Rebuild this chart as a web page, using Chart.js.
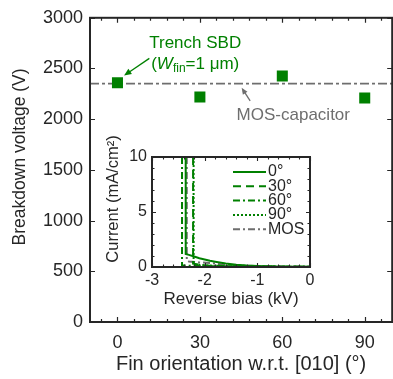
<!DOCTYPE html>
<html>
<head>
<meta charset="utf-8">
<script src="https://cdn.jsdelivr.net/npm/chart.js@4"></script>
<style>
html, body { margin:0; padding:0; background:#fff; overflow:hidden; }
#wrap { position:relative; width:393px; height:379px; overflow:hidden; }
#main { position:absolute; left:0; top:0; }
#inset { position:absolute; left:95px; top:125px; }
</style>
</head>
<body>
<div id="wrap">
  <canvas id="main" width="400" height="379"></canvas>
  <canvas id="inset" width="225" height="185"></canvas>
</div>
<script>
// main panel data
const orientations = [0, 30, 60, 90];
const breakdownVoltage = [2360, 2220, 2425, 2210];
const mosVoltage = 2350;
const xTickLabels = [0, 30, 60, 90];

// inset: reverse I-V curves (bias in kV, current in mA/cm2)
const bias0   = [-2.36, -2.36, -2.3, -2.2, -2.1, -2.0, -1.9, -1.8, -1.6, -1.4, -1.2, -1.0, -0.7, -0.4, 0];
const cur0    = [10, 1.18, 1.1, 0.95, 0.8, 0.68, 0.57, 0.48, 0.32, 0.21, 0.13, 0.08, 0.05, 0.03, 0.02];
const bias30  = [-2.22, -2.22, -2.1, -1.9, -1.6, -1.2, -0.6, 0];
const cur30   = [10, 0.3, 0.2, 0.12, 0.08, 0.05, 0.03, 0.02];
const bias60  = [-2.43, -2.43, -2.2, -1.8, -1.2, -0.6, 0];
const cur60   = [10, 0.15, 0.1, 0.07, 0.04, 0.03, 0.02];
const bias90  = [-2.21, -2.21, -2.0, -1.6, -1.0, 0];
const cur90   = [10, 0.25, 0.15, 0.08, 0.04, 0.02];
const biasMOS = [-2.34, -2.34, -2.3, -2.1, -1.9, -1.7, -1.4, -1.0, 0];
const curMOS  = [10, 0.6, 0.5, 0.42, 0.36, 0.26, 0.15, 0.08, 0.03];
const insetLabels = ['0°', '30°', '60°', '90°', 'MOS'];

const GREEN = '#008000';
const GRAY = '#6e6e6e';
const INK = '#262626';
const FONT = '"Liberation Sans", Arial, Helvetica, sans-serif';

Chart.defaults.font.family = FONT;
Chart.defaults.color = INK;

const pts = (xs, ys) => xs.map((v, i) => ({ x: v, y: ys[i] }));
const plain = v => String(v);

// box + inward ticks (matlab look)
const framePlugin = {
  id: 'frame',
  afterDatasetsDraw(chart, args, o) {
    const { ctx, chartArea: a, scales: { x, y } } = chart;
    ctx.save();
    ctx.strokeStyle = INK;
    ctx.lineWidth = o.tickWidth;
    ctx.setLineDash([]);
    ctx.beginPath();
    const xs = (step, len) => {
      if (!step) return;
      for (let v = Math.ceil(x.min / step) * step; v <= x.max + 1e-9; v += step) {
        const p = Math.round(x.getPixelForValue(v)) + 0.5;
        ctx.moveTo(p, a.bottom); ctx.lineTo(p, a.bottom - len);
        ctx.moveTo(p, a.top); ctx.lineTo(p, a.top + len);
      }
    };
    const ys = (step, len) => {
      if (!step) return;
      for (let v = Math.ceil(y.min / step) * step; v <= y.max + 1e-9; v += step) {
        const p = Math.round(y.getPixelForValue(v)) + 0.5;
        ctx.moveTo(a.left, p); ctx.lineTo(a.left + len, p);
        ctx.moveTo(a.right, p); ctx.lineTo(a.right - len, p);
      }
    };
    xs(o.xMinor, o.minorLen); xs(o.xMajor, o.majorLen);
    ys(o.yMinor, o.minorLen); ys(o.yMajor, o.majorLen);
    ctx.stroke();
    ctx.lineWidth = o.boxWidth;
    ctx.strokeRect(a.left, a.top, a.right - a.left, a.bottom - a.top);
    ctx.restore();
  }
};

// rotated y-axis title, sitting a little above the axis centre like the original
const yTitlePlugin = {
  id: 'yTitle',
  afterDraw(chart, args, o) {
    const { ctx, chartArea: a } = chart;
    ctx.save();
    ctx.font = o.size + 'px ' + FONT;
    ctx.fillStyle = INK;
    ctx.textAlign = 'center';
    ctx.textBaseline = 'middle';
    ctx.translate(o.x, (a.top + a.bottom) / 2 - o.shift);
    ctx.rotate(-Math.PI / 2);
    ctx.fillText(o.text, 0, 0);
    ctx.restore();
  }
};

function arrow(ctx, x1, y1, x2, y2, color, head) {
  ctx.save();
  ctx.strokeStyle = color; ctx.fillStyle = color; ctx.lineWidth = 1.3;
  const ang = Math.atan2(y2 - y1, x2 - x1);
  ctx.beginPath();
  ctx.moveTo(x1, y1);
  ctx.lineTo(x2 - Math.cos(ang) * head * 0.8, y2 - Math.sin(ang) * head * 0.8);
  ctx.stroke();
  ctx.beginPath();
  ctx.moveTo(x2, y2);
  ctx.lineTo(x2 - head * Math.cos(ang - 0.4), y2 - head * Math.sin(ang - 0.4));
  ctx.lineTo(x2 - head * Math.cos(ang + 0.4), y2 - head * Math.sin(ang + 0.4));
  ctx.closePath();
  ctx.fill();
  ctx.restore();
}

// text labels and arrows placed in data units
const notesPlugin = {
  id: 'notes',
  afterDraw(chart) {
    const { ctx, scales: { x, y } } = chart;
    ctx.save();
    ctx.textBaseline = 'middle';
    ctx.textAlign = 'left';
    ctx.fillStyle = GREEN;
    ctx.font = '17px ' + FONT;
    let t = 'Trench SBD';
    ctx.fillText(t, x.getPixelForValue(28.3) - ctx.measureText(t).width / 2, y.getPixelForValue(2745));

    // (W_fin=1 μm)
    const parts = [
      ['(', '17px ' + FONT, 0],
      ['W', 'italic 17px ' + FONT, 0],
      ['fin', '12px ' + FONT, 4],
      ['=1 μm)', '17px ' + FONT, 0]
    ];
    let w = 0;
    parts.forEach(p => { ctx.font = p[1]; w += ctx.measureText(p[0]).width; });
    let cx = x.getPixelForValue(28.3) - w / 2;
    const cy = y.getPixelForValue(2540);
    parts.forEach(p => { ctx.font = p[1]; ctx.fillText(p[0], cx, cy + p[2]); cx += ctx.measureText(p[0]).width; });

    arrow(ctx, x.getPixelForValue(11.6), y.getPixelForValue(2600),
          x.getPixelForValue(2.4), y.getPixelForValue(2430), GREEN, 8);

    ctx.fillStyle = GRAY;
    ctx.font = '17px ' + FONT;
    t = 'MOS-capacitor';
    ctx.fillText(t, x.getPixelForValue(64) - ctx.measureText(t).width / 2, y.getPixelForValue(2040));
    arrow(ctx, x.getPixelForValue(48.3), y.getPixelForValue(2180),
          x.getPixelForValue(45.2), y.getPixelForValue(2310), GRAY, 7);
    ctx.restore();
  }
};

new Chart(document.getElementById('main'), {
  type: 'scatter',
  data: {
    datasets: [
      {
        label: 'Trench SBD',
        data: pts(orientations, breakdownVoltage),
        pointStyle: 'rect',
        pointRadius: 7.8,
        backgroundColor: GREEN,
        borderWidth: 0,
        order: 1
      },
      {
        label: 'MOS-capacitor',
        data: [{ x: -10, y: mosVoltage }, { x: 100, y: mosVoltage }],
        showLine: true,
        borderColor: GRAY,
        borderWidth: 1.8,
        borderDash: [9, 3, 3, 3],
        pointRadius: 0,
        order: 2
      }
    ]
  },
  options: {
    responsive: false,
    devicePixelRatio: 1,
    animation: false,
    layout: { padding: { top: 16, right: 2, left: 0, bottom: 0 } },
    plugins: {
      legend: { display: false },
      tooltip: { enabled: false },
      frame: { xMinor: 6, xMajor: 30, yMinor: 0, yMajor: 500, minorLen: 3, majorLen: 5, tickWidth: 1.2, boxWidth: 2 },
      yTitle: { text: 'Breakdown voltage (V)', size: 17.5, x: 20, shift: 13 }
    },
    scales: {
      x: {
        type: 'linear', min: -10, max: 100,
        grid: { display: false, drawTicks: false }, border: { display: false },
        afterBuildTicks: s => { s.ticks = xTickLabels.map(v => ({ value: v })); },
        ticks: { font: { size: 18 }, padding: 10, color: INK, callback: plain },
        afterFit: s => { s.height = 57; },
        title: { display: true, text: 'Fin orientation w.r.t. [010] (°)', font: { size: 20, lineHeight: 1 }, padding: { top: 0, bottom: 5 }, color: INK }
      },
      y: {
        min: 0, max: 3000,
        grid: { display: false, drawTicks: false }, border: { display: false },
        ticks: { stepSize: 500, font: { size: 18 }, padding: 7, color: INK, callback: plain },
        afterFit: s => { s.width = 90; }
      }
    }
  },
  plugins: [framePlugin, notesPlugin, yTitlePlugin]
});

// inset legend drawn inside the plot area
const insetLegend = {
  id: 'insetLegend',
  afterDraw(chart, args, o) {
    const ctx = chart.ctx;
    ctx.save();
    ctx.font = '16px ' + FONT;
    ctx.textBaseline = 'middle';
    ctx.fillStyle = INK;
    chart.data.datasets.forEach((ds, i) => {
      const yy = o.top + i * o.row;
      ctx.strokeStyle = ds.borderColor;
      ctx.lineWidth = ds.borderWidth;
      ctx.setLineDash(ds.borderDash || []);
      ctx.beginPath();
      ctx.moveTo(o.left, yy); ctx.lineTo(o.left + o.len, yy);
      ctx.stroke();
      ctx.fillText(ds.label, o.left + o.len + 2, yy);
    });
    ctx.restore();
  }
};

const whiteArea = {
  id: 'whiteArea',
  beforeDatasetsDraw(chart) {
    const { ctx, chartArea: a } = chart;
    ctx.save(); ctx.fillStyle = '#fff';
    ctx.fillRect(a.left, a.top, a.right - a.left, a.bottom - a.top);
    ctx.restore();
  }
};

const curve = (label, xs, ys, color, dash) => ({
  label, data: pts(xs, ys), showLine: true, borderColor: color,
  borderWidth: 2, borderDash: dash, pointRadius: 0, tension: 0
});

new Chart(document.getElementById('inset'), {
  type: 'scatter',
  data: {
    datasets: [
      curve(insetLabels[0], bias0, cur0, GREEN, []),
      curve(insetLabels[1], bias30, cur30, GREEN, [8, 5]),
      curve(insetLabels[2], bias60, cur60, GREEN, [7, 3, 2, 3]),
      curve(insetLabels[3], bias90, cur90, GREEN, [2, 2]),
      curve(insetLabels[4], biasMOS, curMOS, GRAY, [7, 3, 2, 3])
    ]
  },
  options: {
    responsive: false,
    devicePixelRatio: 1,
    animation: false,
    layout: { padding: { top: 32, right: 10, left: 0, bottom: 0 } },
    plugins: {
      legend: { display: false },
      tooltip: { enabled: false },
      frame: { xMinor: 0.2, xMajor: 1, yMinor: 1, yMajor: 5, minorLen: 2.5, majorLen: 4, tickWidth: 1.1, boxWidth: 2 },
      insetLegend: { left: 138, top: 47, row: 14.3, len: 33 },
      yTitle: { text: 'Current (mA/cm²)', size: 16.5, x: 18, shift: 13 }
    },
    scales: {
      x: {
        type: 'linear', min: -3, max: 0,
        grid: { display: false, drawTicks: false }, border: { display: false },
        ticks: { stepSize: 1, font: { size: 16 }, padding: 4, color: INK, callback: plain },
        afterFit: s => { s.height = 43; },
        title: { display: true, text: 'Reverse bias (kV)', font: { size: 17, lineHeight: 1 }, padding: { top: 0, bottom: 2.5 }, color: INK }
      },
      y: {
        min: 0, max: 10,
        grid: { display: false, drawTicks: false }, border: { display: false },
        ticks: { stepSize: 5, font: { size: 16 }, padding: 5, color: INK, callback: plain },
        afterFit: s => { s.width = 57; }
      }
    }
  },
  plugins: [whiteArea, framePlugin, insetLegend, yTitlePlugin]
});
</script>
</body>
</html>
